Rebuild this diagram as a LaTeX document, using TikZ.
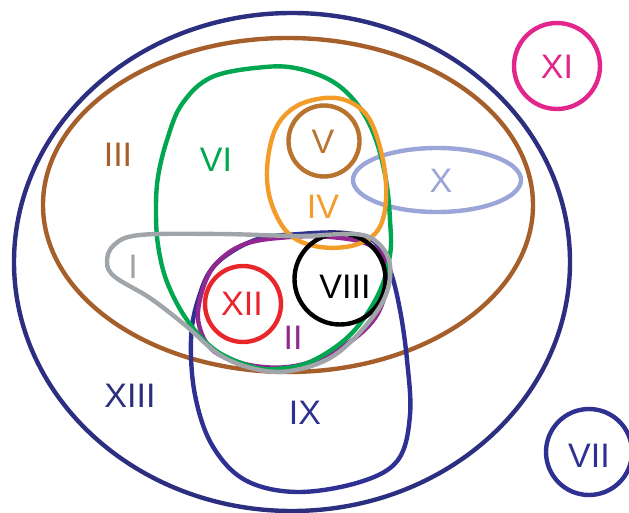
\documentclass[tikz,border=0pt]{standalone}
\usepackage{fontspec}
\setmainfont{Liberation Sans}
\definecolor{cNavyD}{HTML}{2C2F80}
\definecolor{cNavy}{HTML}{2E3192}
\definecolor{cBrown}{HTML}{A65F2A}
\definecolor{cBrownL}{HTML}{B8732F}
\definecolor{cGreen}{HTML}{00A650}
\definecolor{cOrange}{HTML}{F39C2A}
\definecolor{cLav}{HTML}{9AA5D8}
\definecolor{cGray}{HTML}{A0A5AA}
\definecolor{cPurple}{HTML}{92278F}
\definecolor{cRed}{HTML}{E8262B}
\definecolor{cMag}{HTML}{E3268B}
\begin{document}
\begin{tikzpicture}[x=1pt,y=-1pt,
  setline/.style={line width=4.4pt},
  lbl/.style={font=\fontsize{34}{40}\selectfont, inner sep=0pt}]
\useasboundingbox (0,0) rectangle (629,513);
% XIII
\draw[setline,cNavyD] (292,262) ellipse [x radius=278, y radius=249];
% III
\draw[setline,cBrown] (288,205) ellipse [x radius=245, y radius=167];
% X
\draw[setline,cLav] (437,180) ellipse [x radius=84, y radius=32];
% IX
\draw[setline,cNavy] plot[smooth cycle, tension=0.6] coordinates {
  (300,234) (255,240) (215,265) (198,300) (191,340) (195,395) (212,445)
  (245,480) (297,492) (360,482) (398,460) (410,415) (407,360) (400,310)
  (390,270) (375,242) (345,233)};
% II
\draw[setline,cPurple] plot[smooth cycle, tension=0.6] coordinates {
  (290,237) (245,244) (215,265) (201,295) (199,325) (215,352) (255,366)
  (300,365) (345,345) (375,318) (387,285) (384,258) (365,243) (330,237)};
% VI
\draw[setline,cGreen] plot[smooth cycle, tension=0.6] coordinates {
  (265,67) (212,77) (182,104) (167,140) (158,177) (156,210) (158,245)
  (167,282) (187,320) (215,350) (250,366) (275,369) (310,362) (350,335)
  (378,295) (390,255) (390,220) (386,180) (376,140) (360,108) (335,83) (300,69)};
% IV
\draw[setline,cOrange] plot[smooth cycle, tension=0.6] coordinates {
  (325,98) (295,107) (275,130) (267,170) (272,205) (290,235) (320,247)
  (355,245) (378,230) (386,200) (383,160) (370,120) (350,102)};
% V
\node[setline,draw=cBrownL,circle,minimum size=71pt,inner sep=0pt] (cV) at (324,141) {};
% VIII
\node[setline,draw=black,circle,minimum size=91pt,inner sep=0pt] (cVIII) at (340,279) {};
% XII
\node[setline,draw=cRed,circle,minimum size=76pt,inner sep=0pt] (cXII) at (243,304) {};
% I
\draw[setline,cGray] plot[smooth cycle, tension=0.6] coordinates {
  (140,235) (114,245) (107,262) (115,277) (150,298) (185,325) (220,355)
  (255,369) (290,371) (330,358) (362,330) (385,297) (390,265) (378,243)
  (355,234) (300,236) (220,234)};
% XI
\node[setline,draw=cMag,circle,minimum size=86pt,inner sep=0pt] (cXI) at (557,66) {};
% VII
\node[setline,draw=cNavy,circle,minimum size=86pt,inner sep=0pt] (cVII) at (589,452) {};
% labels
\node[lbl,text=cBrown] (tIII) at (118,155) {III};
\node[lbl,text=cGreen] (tVI) at (216,160) {VI};
\node[lbl,text=cBrownL] (tV) at (323,142) {V};
\node[lbl,text=cOrange] (tIV) at (323,207) {IV};
\node[lbl,text=cLav] (tX) at (441,181) {X};
\node[lbl,text=cGray] (tI) at (133,267) {I};
\node[lbl,text=black] (tVIII) at (345,287) {VIII};
\node[lbl,text=cRed] (tXII) at (242,304) {XII};
\node[lbl,text=cPurple] (tII) at (293,338) {II};
\node[lbl,text=cNavyD] (tXIII) at (130,396) {XIII};
\node[lbl,text=cNavy] (tIX) at (305,413) {IX};
\node[lbl,text=cMag] (tXI) at (557,67) {XI};
\node[lbl,text=cNavy] (tVII) at (589,456) {VII};
\end{tikzpicture}
\end{document}
